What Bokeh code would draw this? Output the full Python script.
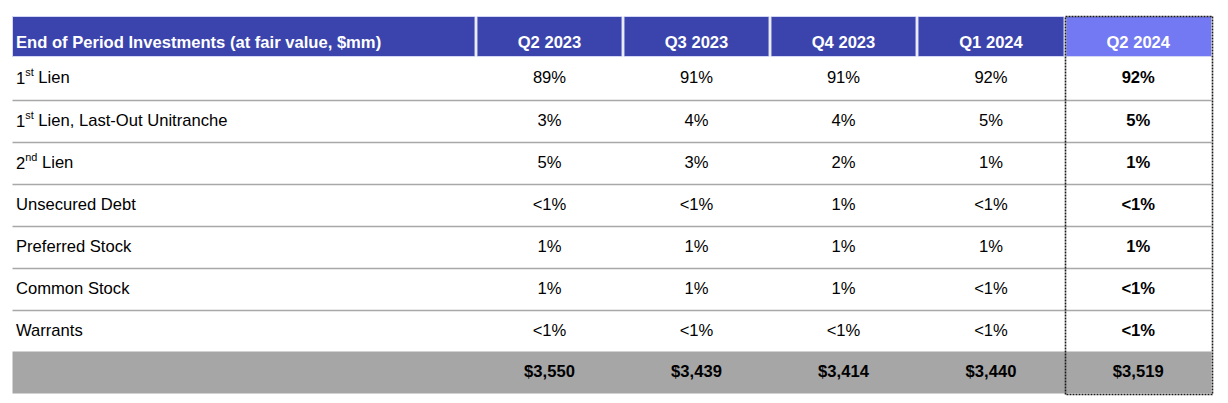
from bokeh.plotting import figure
from bokeh.models import Range1d
from bokeh.core.properties import value
from bokeh.embed import file_html
from bokeh.resources import INLINE

# ---------------- data ----------------
header_title = "End of Period Investments (at fair value, $mm)"
periods = ["Q2 2023", "Q3 2023", "Q4 2023", "Q1 2024", "Q2 2024"]

# row labels (split for superscripts: main, superscript, rest)
label_main = ["1", "1", "2", "Unsecured Debt", "Preferred Stock", "Common Stock", "Warrants"]
label_sup = ["st", "st", "nd", "", "", "", ""]
label_rest = ["Lien", "Lien, Last-Out Unitranche", "Lien", "", "", "", ""]

q2_2023 = ["89%", "3%", "5%", "<1%", "1%", "1%", "<1%"]
q3_2023 = ["91%", "4%", "3%", "<1%", "1%", "1%", "<1%"]
q4_2023 = ["91%", "4%", "2%", "1%", "1%", "1%", "<1%"]
q1_2024 = ["92%", "5%", "1%", "<1%", "1%", "<1%", "<1%"]
q2_2024 = ["92%", "5%", "1%", "<1%", "1%", "<1%", "<1%"]
series = [q2_2023, q3_2023, q4_2023, q1_2024, q2_2024]

totals = ["$3,550", "$3,439", "$3,414", "$3,440", "$3,519"]

# ---------------- layout ----------------
FONT = value("Liberation Sans")
em = 16.6
sup_em = 10.9
FS = f"{em}px"
SUP_FS = f"{sup_em}px"
W, H = 1228, 403
col_bounds = [12, 475.5, 622.5, 769.5, 916.5, 1064.5, 1211]
header_top, header_bot = 16, 56
row_bounds = [56, 100, 142, 184, 226, 268, 310, 351]
total_bot = 393
text_x = 15.5
BASE_OFF = -1.0  # baseline offset from row centre (as rendered)

p = figure(width=W, height=H, output_backend="svg", toolbar_location=None,
           x_range=Range1d(0, W), y_range=Range1d(H, 0),
           min_border=0, min_border_left=0, min_border_right=0,
           min_border_top=0, min_border_bottom=0,
           x_axis_location=None, y_axis_location=None)
p.grid.visible = False
p.outline_line_color = None
p.background_fill_color = "white"
p.border_fill_color = "white"

# header cells
hl, hr, hc = [], [], []
for i in range(len(col_bounds) - 1):
    l = col_bounds[i] + (0 if i == 0 else 1)
    r = col_bounds[i + 1] - 1 if i < len(col_bounds) - 2 else col_bounds[i + 1]
    hl.append(l)
    hr.append(r)
    hc.append("#7379F2" if i == len(col_bounds) - 2 else "#3B44AC")
p.quad(left=hl, right=hr, top=header_top, bottom=header_bot, fill_color=hc,
       line_color="#D3D6F4", line_width=1)

# total row background
p.quad(left=col_bounds[0], right=col_bounds[-1], top=row_bounds[-1], bottom=total_bot,
       fill_color="#A6A6A6", line_color=None)

# row separators
sep_y = row_bounds[1:-1]
p.segment(x0=[col_bounds[0]] * len(sep_y), x1=[col_bounds[-1]] * len(sep_y),
          y0=sep_y, y1=sep_y, line_color="#A8A8A8", line_width=1.5)

# header texts
hb = 41.5
p.text(x=[text_x], y=[hb], text=[header_title], text_font=FONT, text_font_size=FS,
       text_font_style="bold", text_color="white", text_baseline="alphabetic",
       text_align="left")
col_centers = [(col_bounds[i] + col_bounds[i + 1]) / 2 for i in range(1, len(col_bounds) - 1)]
p.text(x=col_centers, y=[hb] * len(periods), text=periods, text_font=FONT, text_font_size=FS,
       text_font_style="bold", text_color="white", text_baseline="alphabetic",
       text_align="center")

# row label texts
row_centers = [(row_bounds[i] + row_bounds[i + 1]) / 2 for i in range(len(row_bounds) - 1)]
baselines = [c + BASE_OFF for c in row_centers]
digit_w = 0.556 * em
space_w = 0.278 * em
sup_w = {"st": (0.5 + 0.278) * sup_em, "nd": (0.556 + 0.556) * sup_em, "": 0}

p.text(x=[text_x] * len(label_main), y=baselines, text=label_main, text_font=FONT,
       text_font_size=FS, text_color="black", text_baseline="alphabetic", text_align="left")
sx, sy, st, rx, ry, rt = [], [], [], [], [], []
for i, s in enumerate(label_sup):
    if s:
        x_s = text_x + digit_w
        sx.append(x_s); sy.append(baselines[i] - 5.8); st.append(s)
        rx.append(x_s + sup_w[s] + space_w); ry.append(baselines[i]); rt.append(label_rest[i])
p.text(x=sx, y=sy, text=st, text_font=FONT, text_font_size=SUP_FS, text_color="black",
       text_baseline="alphabetic", text_align="left")
p.text(x=rx, y=ry, text=rt, text_font=FONT, text_font_size=FS, text_color="black",
       text_baseline="alphabetic", text_align="left")

# values
for j, vals in enumerate(series):
    bold = (j == len(series) - 1)
    p.text(x=[col_centers[j]] * len(vals), y=baselines, text=vals, text_font=FONT,
           text_font_size=FS, text_font_style="bold" if bold else "normal",
           text_color="black", text_baseline="alphabetic", text_align="center")

# totals
tb = (row_bounds[-1] + total_bot) / 2 + BASE_OFF
p.text(x=col_centers, y=[tb] * len(totals), text=totals, text_font=FONT, text_font_size=FS,
       text_font_style="bold", text_color="black", text_baseline="alphabetic",
       text_align="center")

# dotted highlight around latest period
p.quad(left=col_bounds[-2] + 0.5, right=col_bounds[-1] + 1, top=header_top, bottom=total_bot + 1,
       fill_color=None, line_color="#1A1A1A", line_width=1.6, line_dash="2 1")

open("out.html", "w").write(file_html(p, INLINE))
